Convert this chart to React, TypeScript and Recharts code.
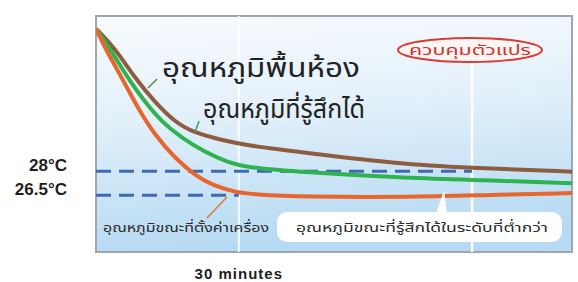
import React from "react";
import { LineChart, Line, XAxis, YAxis, ReferenceLine, ReferenceArea } from "recharts";

// Room temperature (brown)
const roomMinutes = [0, 4.0, 8.2, 12.4, 16.6, 20.8, 26.5, 31.3, 43, 66, 81, 100];
const roomTemps = [36.9, 35.69, 33.81, 32.31, 31.06, 30.38, 29.94, 29.63, 29.19, 28.38, 28.19, 27.97];

// Felt temperature (green)
const feltMinutes = [0, 3.4, 6.7, 10.3, 13.9, 18.1, 22.9, 27.7, 31.3, 43, 66, 81, 100];
const feltTemps = [36.9, 35.44, 33.81, 32.31, 31.06, 30.06, 29.19, 28.56, 28.25, 27.94, 27.56, 27.44, 27.25];

// Set temperature (orange)
const setMinutes = [0, 1.9, 5.5, 8.8, 12.4, 16.6, 20.8, 24.4, 29.2, 33, 44, 66, 81, 100];
const setTemps = [36.9, 35.69, 33.81, 31.94, 30.25, 28.81, 27.75, 27.13, 26.69, 26.55, 26.4, 26.38, 26.5, 26.63];

const yTicks = [28, 26.5];
const yTickLabels = ["28°C", "26.5°C"];
const xTicks = [30];
const xTickLabels = ["30 minutes"];

const X_DOMAIN = [0, 100];
const Y_DOMAIN = [22.95, 37.7];
const upperLimitMinute = 79;
const lowerLimitMinute = 30;

const roomData = roomMinutes.map((m, i) => ({ m, t: roomTemps[i] }));
const feltData = feltMinutes.map((m, i) => ({ m, t: feltTemps[i] }));
const setData = setMinutes.map((m, i) => ({ m, t: setTemps[i] }));

const YTick = (props: any) => {
  const { y, payload } = props;
  const idx = yTicks.indexOf(payload.value);
  return (
    <text x={67} y={y - 6} textAnchor="end" dominantBaseline="central" fontFamily="Liberation Sans, Arial, sans-serif" fontWeight="bold" fontSize={17} fill="#1e1e1e">
      {yTickLabels[idx]}
    </text>
  );
};

const XTick = (props: any) => {
  const { x, payload } = props;
  const idx = xTicks.indexOf(payload.value);
  return (
    <text x={x} y={273} textAnchor="middle" dominantBaseline="central" fontFamily="Liberation Sans, Arial, sans-serif" fontWeight="bold" fontSize={15} fill="#1e1e1e" letterSpacing={1}>
      {xTickLabels[idx]}
    </text>
  );
};

const thaiFont = "'Noto Sans Thai', 'Noto Sans', 'DejaVu Sans', sans-serif";

export default function App() {
  return (
    <div style={{ position: "absolute", left: 0, top: 0, width: 578, height: 282, background: "#fff" }}>
      <LineChart width={578} height={282} margin={{ top: 16, right: 6, bottom: 0, left: 0 }}>
        <defs>
          <linearGradient id="bg" x1="0" y1="0" x2="0.15" y2="1">
            <stop offset="0%" stopColor="#f8fbfd" />
            <stop offset="45%" stopColor="#e2f0fa" />
            <stop offset="100%" stopColor="#b6daf3" />
          </linearGradient>
        </defs>
        <XAxis type="number" dataKey="m" domain={X_DOMAIN} ticks={xTicks} tick={<XTick />} axisLine={false} tickLine={false} height={30} allowDataOverflow />
        <YAxis type="number" domain={Y_DOMAIN} ticks={yTicks} tick={<YTick />} width={96} axisLine={false} tickLine={false} allowDataOverflow />
        <ReferenceArea x1={X_DOMAIN[0]} x2={X_DOMAIN[1]} y1={Y_DOMAIN[0]} y2={Y_DOMAIN[1]} fill="url(#bg)" fillOpacity={1} stroke="#9ea7ae" strokeWidth={2} />
        <ReferenceLine x={lowerLimitMinute} stroke="#ffffff" strokeWidth={2} strokeOpacity={0.85} />
        <ReferenceLine segment={[{ x: upperLimitMinute, y: 34.75 }, { x: upperLimitMinute, y: Y_DOMAIN[0] }]} stroke="#ffffff" strokeWidth={2.5} />
        <ReferenceLine segment={[{ x: 0, y: 28 }, { x: upperLimitMinute, y: 28 }]} stroke="#4169b2" strokeWidth={3} strokeDasharray="15 8" />
        <ReferenceLine segment={[{ x: 0, y: 26.5 }, { x: lowerLimitMinute, y: 26.5 }]} stroke="#4169b2" strokeWidth={3} strokeDasharray="15 8" />
        <Line data={roomData} dataKey="t" type="basis" stroke="#8e5c3e" strokeWidth={4} dot={false} isAnimationActive={false} />
        <Line data={feltData} dataKey="t" type="basis" stroke="#2fb250" strokeWidth={4} dot={false} isAnimationActive={false} />
        <Line data={setData} dataKey="t" type="basis" stroke="#e8662e" strokeWidth={4} dot={false} isAnimationActive={false} />
      </LineChart>
      <svg width={578} height={282} style={{ position: "absolute", left: 0, top: 0, pointerEvents: "none" }}>
        <line x1={148} y1={88} x2={157} y2={79} stroke="#6d7d52" strokeWidth={1.5} />
        <line x1={195} y1={132} x2={199} y2={121} stroke="#3aa55a" strokeWidth={1.5} />
        <text x={162} y={69} dominantBaseline="central" fontFamily={thaiFont} fontSize={26} fill="#222" textLength={198} lengthAdjust="spacingAndGlyphs">อุณหภูมิพื้นห้อง</text>
        <text x={203} y={110} dominantBaseline="central" fontFamily={thaiFont} fontSize={26} fill="#222" textLength={162} lengthAdjust="spacingAndGlyphs">อุณหภูมิที่รู้สึกได้</text>
        <ellipse cx={470} cy={50} rx={72} ry={12} fill="#fdf6f3" stroke="#d83a3a" strokeWidth={2} />
        <text x={470} y={50} textAnchor="middle" dominantBaseline="central" fontFamily={thaiFont} fontSize={14} fill="#d3302f" textLength={122} lengthAdjust="spacingAndGlyphs">ควบคุมตัวแปร</text>
        <line x1={207} y1={218} x2={227} y2={197} stroke="#d9793f" strokeWidth={1.5} />
        <text x={103} y={228} dominantBaseline="central" fontFamily={thaiFont} fontSize={13} fill="#2a2a2a" textLength={166} lengthAdjust="spacingAndGlyphs">อุณหภูมิขณะที่ตั้งค่าเครื่อง</text>
        <polygon points="436,214 447,214 444,190" fill="#ffffff" />
        <rect x={277} y={212} width={285} height={30} rx={10} fill="#ffffff" />
        <text x={296} y={228} dominantBaseline="central" fontFamily={thaiFont} fontSize={13} fill="#2a2a2a" textLength={252} lengthAdjust="spacingAndGlyphs">อุณหภูมิขณะที่รู้สึกได้ในระดับที่ต่ำกว่า</text>
      </svg>
    </div>
  );
}
